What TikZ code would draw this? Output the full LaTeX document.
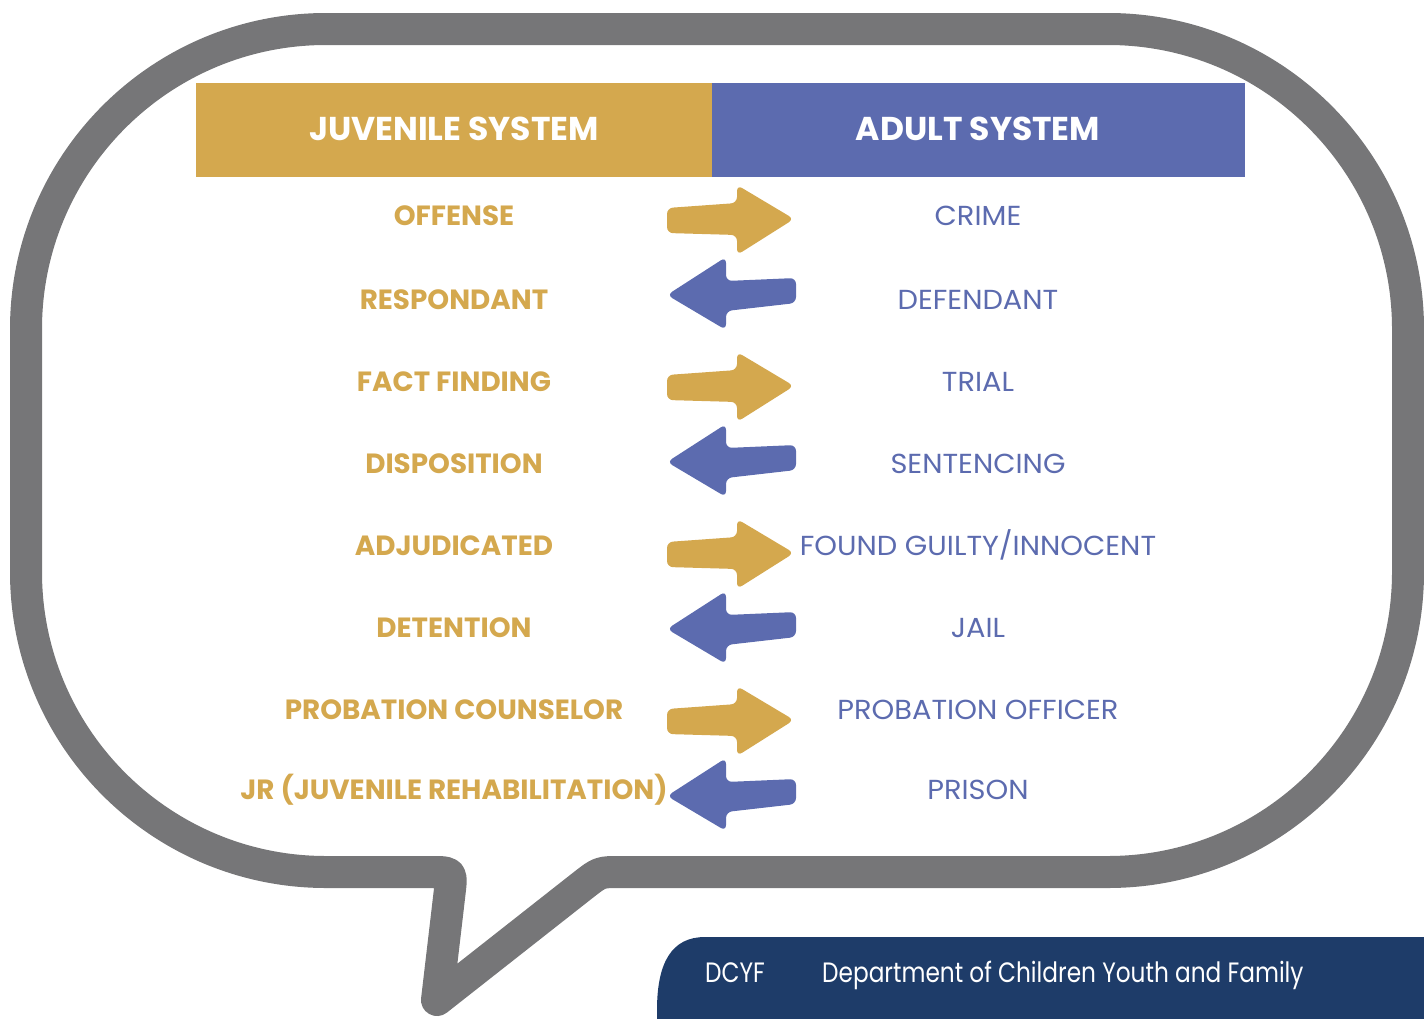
\documentclass[tikz,border=0pt]{standalone}
\usepackage{fontspec}
\setmainfont{Poppins}
\newfontfamily\dfont[FakeStretch=0.83]{Poppins}
\newfontfamily\afont[FakeStretch=1.05]{Poppins}
\definecolor{gold}{HTML}{D4A84E}
\definecolor{slate}{HTML}{5C6BAF}
\definecolor{bubble}{HTML}{767678}
\definecolor{navy}{HTML}{1E3C69}
\tikzset{
  jlbl/.style={anchor=base, text=gold, font=\fontsize{27.8}{30}\selectfont\bfseries, inner sep=0pt},
  albl/.style={anchor=base, text=slate, font=\afont\fontsize{27.5}{30}\selectfont, inner sep=0pt},
  hdrtxt/.style={anchor=base, text=white, font=\fontsize{33}{36}\selectfont\bfseries, inner sep=0pt},
  foot/.style={anchor=base west, text=white, font=\dfont\fontsize{28}{30}\selectfont, inner sep=0pt},
  rarrow/.pic={\fill[gold, rounded corners=6pt] (-63,-11) -- (7,-16) -- (7,-34) -- (64,0) -- (7,36) -- (7,16) -- (-63,14) -- cycle;},
  larrow/.pic={\fill[slate, rounded corners=6pt] (65,-16) -- (-5,-13) -- (-5,-37) -- (-64,1) -- (-5,36) -- (-5,17) -- (65,9) -- cycle;}
}
\begin{document}
\begin{tikzpicture}[x=1pt,y=-1pt]
\useasboundingbox (0,0) rectangle (1424,1018);
% speech bubble
\draw[bubble, line width=32pt, line join=round]
  (26,572) -- (26,329)
  .. controls (26,163.4) and (160.4,29) .. (326,29)
  -- (1108,29)
  .. controls (1273.6,29) and (1408,163.4) .. (1408,329)
  -- (1408,572)
  .. controls (1408,737.6) and (1273.6,872) .. (1108,872)
  -- (620,872)
  .. controls (600,872) .. (584,884.4)
  -- (437,1000)
  -- (449.7,891.9)
  .. controls (452,872) .. (432,872)
  -- (326,872)
  .. controls (160.4,872) and (26,737.6) .. (26,572) -- cycle;
% headers
\fill[gold] (196,83) rectangle (712,177);
\fill[slate] (712,83) rectangle (1245,177);
\node[hdrtxt] (jh) at (454,140) {JUVENILE SYSTEM};
\node[hdrtxt] (ah) at (978,140) {ADULT SYSTEM};
% juvenile terms
\node[jlbl] (j1) at (454,225.5) {OFFENSE};
\node[jlbl] (j2) at (454,309.5) {RESPONDANT};
\node[jlbl] (j3) at (454,391.5) {FACT FINDING};
\node[jlbl] (j4) at (454,473.5) {DISPOSITION};
\node[jlbl] (j5) at (454,555.5) {ADJUDICATED};
\node[jlbl] (j6) at (454,637.5) {DETENTION};
\node[jlbl] (j7) at (454,719.5) {PROBATION COUNSELOR};
\node[jlbl] (j8) at (454,799.5) {JR (JUVENILE REHABILITATION)};
% adult terms
\node[albl] (a1) at (978,225.5) {CRIME};
\node[albl] (a2) at (978,309.5) {DEFENDANT};
\node[albl] (a3) at (978,391.5) {TRIAL};
\node[albl] (a4) at (978,473.5) {SENTENCING};
\node[albl] (a5) at (978,555.5) {FOUND GUILTY/INNOCENT};
\node[albl] (a6) at (978,637.5) {JAIL};
\node[albl] (a7) at (978,719.5) {PROBATION OFFICER};
\node[albl] (a8) at (978,799.5) {PRISON};
% arrows
\pic at (730,219) {rarrow};
\pic at (731,294) {larrow};
\pic at (730,386) {rarrow};
\pic at (731,461) {larrow};
\pic at (730,553) {rarrow};
\pic at (731,628) {larrow};
\pic at (730,720) {rarrow};
\pic at (731,795) {larrow};
% footer box
\begin{scope}
\clip (0,0) rectangle (1424,1018);
\fill[navy] (657,1040) -- (657,1010) .. controls (657,962) and (672,937) .. (705,937) -- (1440,937) -- (1440,1040) -- cycle;
\end{scope}
\node[foot] (dc) at (705,982) {DCYF};
\node[foot] (dd) at (822,982) {Department of Children Youth and Family};
\end{tikzpicture}
\end{document}
